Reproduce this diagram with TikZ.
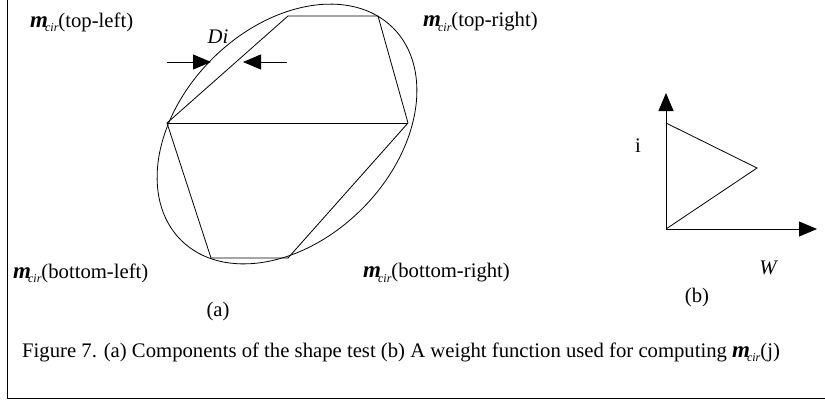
\documentclass[tikz,border=0pt]{standalone}
\usepackage{fontspec}
\setmainfont{Liberation Serif}
\usetikzlibrary{arrows.meta}
\newcommand{\mcirsym}{{\fontsize{23}{23}\selectfont\bfseries\itshape m}\kern-3pt\raisebox{-0.2em}{\fontsize{12}{12}\selectfont\itshape cir}}
\begin{document}
\begin{tikzpicture}[x=1pt,y=-1pt,
  font=\fontsize{20.7}{24}\selectfont,
  line/.style={line width=0.8pt},
  lbl/.style={inner sep=0pt, anchor=west},
  ctr/.style={inner sep=0pt},
  headarrow/.style={line width=0.8pt, -{Triangle[length=18pt,width=15pt]}}]
\useasboundingbox (0,0) rectangle (825,402);
% frame
\coordinate (ftop) at (7,0);
\coordinate (fcorner) at (7,398);
\coordinate (fright) at (825,398);
\draw[line] (ftop) -- (fcorner) -- (fright);
% ellipse
\coordinate (ec) at (287,134);
\draw[line, rotate around={45:(ec)}] (ec) ellipse [x radius=150, y radius=106];
% polygon
\coordinate (pl) at (167,123);
\coordinate (ptl) at (288,16);
\coordinate (ptr) at (378,16);
\coordinate (pr) at (408,123);
\coordinate (pbr) at (288,258);
\coordinate (pbl) at (211,258);
\draw[line] (pl) -- (ptl) -- (ptr) -- (pr) -- (pbr) -- (pbl) -- cycle;
\draw[line] (pl) -- (pr);
% Di arrows
\coordinate (a1s) at (167,62);
\coordinate (a1e) at (211,62);
\coordinate (a2s) at (287,62);
\coordinate (a2e) at (243,62);
\draw[headarrow] (a1s) -- (a1e);
\draw[headarrow] (a2s) -- (a2e);
\node[ctr] (di) at (218,37) {\itshape Di};
% labels
\node[lbl] (tl) at (30,22) {\mcirsym(top-left)};
\node[lbl] (tr) at (423,22) {\mcirsym(top-right)};
\node[lbl] (bl) at (13,273) {\mcirsym(bottom-left)};
\node[lbl] (br) at (363,273) {\mcirsym(bottom-right)};
\node[ctr] (la) at (218,312) {(a)};
% panel b
\coordinate (o) at (666,229);
\coordinate (ytip) at (666,93);
\coordinate (xtip) at (817,229);
\coordinate (t1) at (666,123);
\coordinate (t2) at (757,168);
\draw[headarrow] (o) -- (ytip);
\draw[headarrow] (o) -- (xtip);
\draw[line] (t1) -- (t2) -- (o);
\node[ctr] (ilab) at (638,146) {i};
\node[ctr] (wlab) at (768,268) {\itshape W};
\node[ctr] (lb) at (697,298) {(b)};
% caption
\node[lbl] (cap) at (22,352) {Figure 7. (a) Components of the shape test (b) A weight function used for computing \mcirsym(j)};
\end{tikzpicture}
\end{document}
